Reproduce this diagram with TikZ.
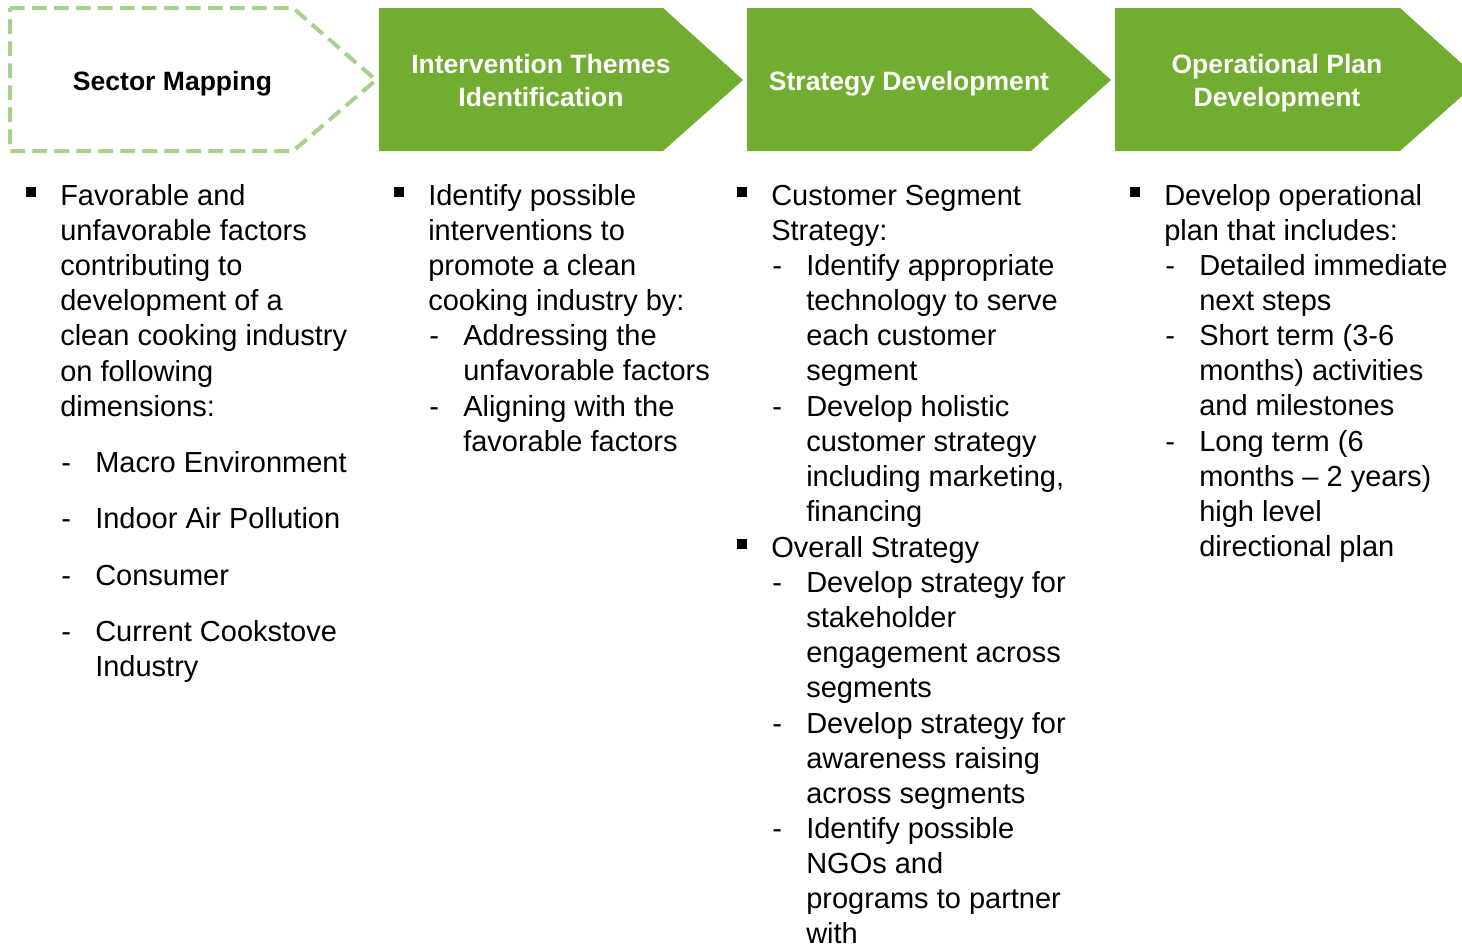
\documentclass[tikz,border=0pt]{standalone}
\usepackage{fontspec}
\setmainfont{Liberation Sans}
\usetikzlibrary{positioning}
\definecolor{leaf}{RGB}{112,173,49}
\definecolor{leaflight}{RGB}{169,209,142}

\tikzset{
  stage/.style={fill=leaf},
  stagedash/.style={draw=leaflight, line width=3pt, dash pattern=on 11pt off 5.5pt},
  head/.style={align=center, inner sep=0pt, text=white, font=\fontsize{19.9}{24.75}\selectfont\bfseries},
  item/.style={anchor=base west, align=left, inner sep=0pt, font=\fontsize{21.75}{26.4}\selectfont},
  bul/.style={fill=black, inner sep=0pt, minimum size=7pt}
}

\begin{document}
\begin{tikzpicture}[x=0.75pt, y=-0.75pt]
    \useasboundingbox (0,0) rectangle (1462,943);
    \clip (0,0) rectangle (1462,943);

    % stages
    \draw[stagedash] (10,8) -- (293,8) -- (376,80) -- (293,151) -- (10,151) -- cycle;
    \fill[stage] (379,8) -- (663,8) -- (743,80) -- (663,151) -- (379,151) -- cycle;
    \fill[stage] (747,8) -- (1031,8) -- (1111,80) -- (1031,151) -- (747,151) -- cycle;
    \fill[stage] (1115,8) -- (1400,8) -- (1480,80) -- (1400,151) -- (1115,151) -- cycle;

    % base of a multi-line item is its last line
    \node[head, text=black, anchor=base] (mapping) at (172.5,90) {Sector Mapping};
    \node[head, anchor=base] (themes) at (541,106) {Intervention Themes\\Identification};
    \node[head, anchor=base] (strategy) at (909,90) {Strategy Development};
    \node[head, anchor=base] (operational) at (1277,106) {Operational Plan\\Development};

    % sector mapping
    \node[bul] (b1) at (31,192) {};
    \node[item] (factors) at (60,416.2) {Favorable and\\unfavorable factors\\contributing to\\development of a\\clean cooking industry\\on following\\dimensions:};
    \node[item] (d11) at (61,472) {-};
    \node[item] (macro) at (95,472) {Macro Environment};
    \node[item] (d12) at (61,528) {-};
    \node[item] (indoor) at (95,528) {Indoor Air Pollution};
    \node[item] (d13) at (61,585) {-};
    \node[item] (consumer) at (95,585) {Consumer};
    \node[item] (d14) at (61,641) {-};
    \node[item] (cookstove) at (95,676.2) {Current Cookstove\\Industry};

    % intervention themes
    \node[bul] (b2) at (399,192) {};
    \node[item] (interventions) at (428,310.6) {Identify possible\\interventions to\\promote a clean\\cooking industry by:};
    \node[item] (d21) at (429,345) {-};
    \node[item] (addressing) at (463,380.2) {Addressing the\\unfavorable factors};
    \node[item] (d22) at (429,416) {-};
    \node[item] (aligning) at (463,451.2) {Aligning with the\\favorable factors};

    % strategy development
    \node[bul] (b3) at (742,192) {};
    \node[item] (segment) at (771,240.2) {Customer Segment\\Strategy:};
    \node[item] (d31) at (772,275) {-};
    \node[item] (technology) at (806,380.6) {Identify appropriate\\technology to serve\\each customer\\segment};
    \node[item] (d32) at (772,416) {-};
    \node[item] (holistic) at (806,521.6) {Develop holistic\\customer strategy\\including marketing,\\financing};
    \node[bul] (b4) at (742,544) {};
    \node[item] (overall) at (771,557) {Overall Strategy};
    \node[item] (d33) at (772,592) {-};
    \node[item] (stakeholder) at (806,697.6) {Develop strategy for\\stakeholder\\engagement across\\segments};
    \node[item] (d34) at (772,733) {-};
    \node[item] (awareness) at (806,803.4) {Develop strategy for\\awareness raising\\across segments};
    \node[item] (d35) at (772,838) {-};
    \node[item] (ngos) at (806,943.6) {Identify possible\\NGOs and\\programs to partner\\with};

    % operational plan
    \node[bul] (b5) at (1135,192) {};
    \node[item] (plan) at (1164,240.2) {Develop operational\\plan that includes:};
    \node[item] (d41) at (1165,275) {-};
    \node[item] (steps) at (1199,310.2) {Detailed immediate\\next steps};
    \node[item] (d42) at (1165,345) {-};
    \node[item] (short) at (1199,415.4) {Short term (3-6\\months) activities\\and milestones};
    \node[item] (d43) at (1165,451) {-};
    \node[item] (long) at (1199,556.6) {Long term (6\\months \textendash{} 2 years)\\high level\\directional plan};
  \end{tikzpicture}
\end{document}
